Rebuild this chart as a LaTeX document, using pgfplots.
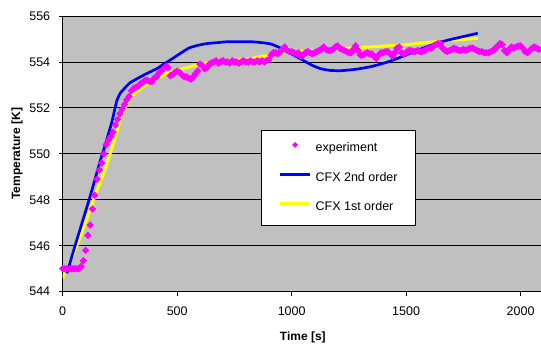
\documentclass[border=0pt]{standalone}
\usepackage{pgfplots}
\pgfplotsset{compat=1.18}
\usepackage{fontspec}
\setmainfont{Liberation Sans}
\definecolor{bg}{RGB}{192,192,192}
\definecolor{cfxblue}{RGB}{0,0,255}
\definecolor{cfxyellow}{RGB}{255,255,0}
\definecolor{expmag}{RGB}{255,0,255}

\pgfplotsset{
  lineleg/.style={legend image code/.code={\draw[##1] (0pt,3.5pt) -- (30pt,3.5pt);}},
  markleg/.style={legend image code/.code={
    \draw[mark repeat=2, mark phase=2, ##1, mark size=1.7pt] plot coordinates {(0pt,3.5pt) (15pt,3.5pt) (30pt,3.5pt)};}},
}

\pgfplotstableread{
t T
0 545.0
10 545.0
20 545.0
30 545.0
40 545.0
50 545.0
60 545.0
70 545.0
80 545.1
90 545.35
100 545.8
110 546.45
120 546.9
130 547.6
140 548.2
150 548.9
160 549.3
170 549.6
180 550.0
190 550.4
200 550.6
210 550.75
220 550.95
230 551.25
240 551.5
250 551.75
260 551.95
270 552.15
280 552.35
290 552.5
300 552.75
310 552.85
320 552.9
330 552.95
340 553.05
350 553.1
360 553.2
370 553.2
380 553.15
390 553.15
400 553.3
410 553.35
420 553.5
430 553.6
440 553.7
450 553.8
460 553.75
470 553.4
480 553.45
490 553.55
500 553.6
510 553.55
520 553.45
530 553.35
540 553.35
550 553.3
560 553.25
570 553.35
580 553.5
590 553.6
600 553.9
610 553.85
620 553.7
630 553.75
640 553.9
650 553.95
660 554.0
670 554.05
680 553.95
690 554.0
700 554.05
710 554.0
720 554.0
730 553.95
740 554.05
750 554.0
760 554.0
770 553.95
780 554.0
790 554.05
800 554.0
810 554.0
820 554.05
830 554.0
840 554.0
850 554.05
860 554.0
870 554.05
880 554.0
890 554.05
900 554.1
910 554.3
920 554.4
930 554.4
940 554.35
950 554.45
960 554.55
970 554.65
980 554.5
990 554.45
1000 554.45
1010 554.4
1020 554.35
1030 554.4
1040 554.25
1050 554.3
1060 554.4
1070 554.45
1080 554.4
1090 554.35
1100 554.4
1110 554.45
1120 554.5
1130 554.55
1140 554.65
1150 554.55
1160 554.5
1170 554.5
1180 554.55
1190 554.65
1200 554.7
1210 554.6
1220 554.55
1230 554.5
1240 554.45
1250 554.4
1260 554.4
1270 554.55
1280 554.7
1290 554.5
1300 554.3
1310 554.3
1320 554.35
1330 554.4
1340 554.35
1350 554.35
1360 554.25
1370 554.15
1380 554.3
1390 554.4
1400 554.4
1410 554.45
1420 554.45
1430 554.35
1440 554.25
1450 554.4
1460 554.6
1470 554.65
1480 554.4
1490 554.35
1500 554.4
1510 554.5
1520 554.5
1530 554.45
1540 554.45
1550 554.5
1560 554.45
1570 554.45
1580 554.5
1590 554.55
1600 554.6
1610 554.6
1620 554.7
1630 554.75
1640 554.8
1650 554.8
1660 554.6
1670 554.5
1680 554.45
1690 554.5
1700 554.55
1710 554.6
1720 554.55
1730 554.5
1740 554.5
1750 554.55
1760 554.5
1770 554.55
1780 554.6
1790 554.6
1800 554.55
1810 554.5
1820 554.45
1830 554.45
1840 554.4
1850 554.4
1860 554.4
1870 554.45
1880 554.5
1890 554.6
1900 554.7
1910 554.8
1920 554.75
1930 554.5
1940 554.4
1950 554.55
1960 554.65
1970 554.6
1980 554.65
1990 554.7
2000 554.7
2010 554.6
2020 554.45
2030 554.4
2040 554.5
2050 554.6
2060 554.65
2070 554.6
2080 554.55
}\experiment

\pgfplotstableread{
t T
18 544.8
60 546.2
100 547.5
130 548.5
164 549.7
186 550.4
215 551.4
236 552.3
252 552.65
270 552.85
295 553.1
330 553.3
368 553.5
410 553.7
441 553.9
480 554.15
515 554.38
550 554.6
588 554.72
630 554.8
675 554.84
720 554.88
822 554.88
870 554.84
910 554.78
953 554.6
1000 554.35
1041 554.12
1090 553.85
1129 553.7
1170 553.63
1217 553.62
1280 553.68
1348 553.8
1420 554.0
1494 554.28
1560 554.55
1655 554.88
1730 555.06
1813 555.25
}\secondorder

\pgfplotstableread{
t T
0 544.6
60 545.95
110 547.3
150 548.4
185 549.3
210 550.1
230 550.7
252 551.5
280 552.15
310 552.6
350 552.9
383 553.1
420 553.3
456 553.5
500 553.65
544 553.75
600 553.9
675 554.0
750 554.08
822 554.15
900 554.3
950 554.38
1100 554.5
1200 554.57
1304 554.63
1400 554.69
1488 554.74
1567 554.82
1650 554.9
1813 555.03
}\firstorder

\begin{document}
\begin{tikzpicture}
\path[use as bounding box] (-62.7pt,-56.3pt) rectangle (478.3pt,291.7pt);
\begin{axis}[
  scale only axis,
  width=478.3pt, height=275.7pt,
  at={(0pt,0pt)}, anchor=south west,
  xmin=0, xmax=2089, ymin=544, ymax=556,
  xtick={0,500,1000,1500,2000},
  ytick={544,546,548,550,552,554,556},
  scaled ticks=false,
  /pgf/number format/1000 sep={},
  /pgf/number format/assume math mode=true,
  axis background/.style={fill=bg},
  axis x line*=bottom, axis y line*=left,
  axis line style={black, line width=1pt},
  ymajorgrids,
  major grid style={black, line width=0.8pt},
  tick align=outside, major tick length=4pt,
  tick style={black, line width=0.8pt},
  ticklabel style={font=\fontsize{12.5}{14}\selectfont},
  xticklabel style={yshift=-8pt},
  yticklabel style={xshift=-5pt},
  xlabel={Time [s]}, ylabel={Temperature [K]},
  label style={font=\bfseries\fontsize{12}{14}\selectfont},
  xlabel style={at={(axis description cs:0.502,-0.164)}, anchor=center},
  ylabel style={at={(axis description cs:-0.0955,0.5)}, anchor=center},
  reverse legend,
  legend cell align=left,
  legend style={at={(0.414,0.5865)}, anchor=north west,
    draw=black, line width=0.8pt, fill=white,
    font=\fontsize{12.5}{14}\selectfont,
    inner xsep=17.5pt, inner ysep=12pt,
    row sep=17.5pt, column sep=4pt,
    nodes={inner sep=0pt, text height=9.5pt, text depth=2.5pt}},
]
\addplot[color=cfxyellow, line width=3pt, smooth, tension=0.3, lineleg]
  table[x=t, y=T] {\firstorder};
\addlegendentry{CFX 1st order}
\addplot[color=cfxblue, line width=2.7pt, smooth, tension=0.3, lineleg]
  table[x=t, y=T] {\secondorder};
\addlegendentry{CFX 2nd order}
\addplot[only marks, color=expmag, mark=square*, mark size=2.4pt,
  mark options={rotate=45, draw=none, fill=expmag}, markleg]
  table[x=t, y=T] {\experiment};
\addlegendentry{experiment}
\end{axis}
\end{tikzpicture}
\end{document}
